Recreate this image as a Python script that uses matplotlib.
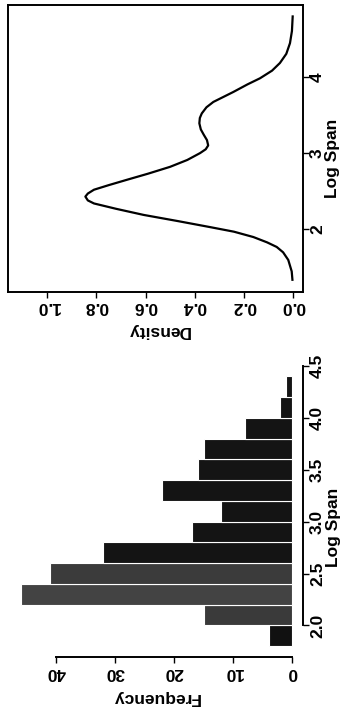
import matplotlib
matplotlib.use("Agg")
import matplotlib.pyplot as plt

plt.rcParams.update({"font.family": ["Liberation Sans", "DejaVu Sans"],
                     "font.size": 12.5, "font.weight": "bold",
                     "axes.labelweight": "bold"})

W, H = 342, 711

# histogram of log span, bins of width 0.2
bin_left = [1.8, 2.0, 2.2, 2.4, 2.6, 2.8, 3.0, 3.2, 3.4, 3.6, 3.8, 4.0, 4.2]
counts = [4, 15, 46, 41, 32, 17, 12, 22, 16, 15, 8, 2, 1]
bin_width = 0.2

# density curve of log span
span = [1.34, 1.45, 1.60, 1.70, 1.77, 1.83, 1.90, 1.97, 2.03, 2.11, 2.19, 2.27,
        2.34, 2.38, 2.43, 2.47, 2.52, 2.58, 2.65, 2.73, 2.82, 2.91, 3.00, 3.05,
        3.10, 3.17, 3.24, 3.31, 3.39, 3.46, 3.52, 3.60, 3.67, 3.80, 3.90, 3.98,
        4.08, 4.18, 4.30, 4.44, 4.60, 4.79]
density = [0.002, 0.005, 0.019, 0.040, 0.066, 0.105, 0.161, 0.240, 0.337, 0.470,
           0.608, 0.720, 0.810, 0.835, 0.845, 0.835, 0.810, 0.750, 0.676, 0.590,
           0.500, 0.430, 0.378, 0.355, 0.345, 0.350, 0.363, 0.375, 0.381, 0.379,
           0.371, 0.352, 0.324, 0.243, 0.185, 0.134, 0.085, 0.053, 0.027, 0.012,
           0.004, 0.001]

dens_ticks = [0.0, 0.2, 0.4, 0.6, 0.8, 1.0]
span_ticks_top = [2, 3, 4]
freq_ticks = [0, 10, 20, 30, 40]
span_ticks_bottom = [2.0, 2.5, 3.0, 3.5, 4.0, 4.5]

bar_colors = ["#111111", "#3a3a3a", "#434343", "#3b3b3b"] + ["#141414"] * 9


def px_rect(x0, y0, x1, y1):
    return [x0 / W, 1 - y1 / H, (x1 - x0) / W, (y1 - y0) / H]


fig = plt.figure(figsize=(W / 100, H / 100), dpi=100)

# top panel: density (whole figure is turned a quarter turn)
ax1 = fig.add_axes(px_rect(8, 5, 303, 292))
ax1.plot(density, span, color="black", lw=1.6)
ax1.set_xlim(1.16, -0.041)
ax1.set_ylim(1.18, 4.94)
ax1.set_xticks(dens_ticks)
ax1.set_xticklabels([f"{v:.1f}" for v in dens_ticks])
ax1.set_yticks(span_ticks_top)
ax1.set_yticklabels([str(v) for v in span_ticks_top])
ax1.yaxis.tick_right()
ax1.tick_params(axis="x", labelrotation=180, length=4, width=1, pad=1)
ax1.tick_params(axis="y", labelrotation=90, length=4, width=1, pad=1)
plt.setp(ax1.get_yticklabels(), va="center")
for s in ax1.spines.values():
    s.set_linewidth(1.4)
ax1.set_xlabel("Density", rotation=180)
ax1.xaxis.label.set_va("center")
ax1.xaxis.set_label_coords((158 - 8) / 295, -(331 - 292) / 287)
ax1.yaxis.set_label_position("right")
ax1.set_ylabel("Log Span", rotation=90)
ax1.yaxis.label.set_rotation_mode("default")
ax1.yaxis.label.set_va("center")
ax1.yaxis.set_label_coords((332 - 8) / 295, (292 - 158) / 287)

# bottom panel: histogram
ax2 = fig.add_axes(px_rect(9.7, 365.6, 303, 657))
ax2.barh(bin_left, counts, height=bin_width, align="edge", color=bar_colors,
         edgecolor="white", linewidth=0.8)
ax2.set_xlim(47.84, -1.84)
ax2.set_ylim(1.696, 4.504)
ax2.spines["top"].set_visible(False)
ax2.spines["left"].set_visible(False)
ax2.spines["bottom"].set_bounds(0, 40)
ax2.spines["right"].set_bounds(2.0, 4.5)
for s in ("bottom", "right"):
    ax2.spines[s].set_linewidth(1.4)
ax2.set_xticks(freq_ticks)
ax2.set_xticklabels([str(v) for v in freq_ticks])
ax2.set_yticks(span_ticks_bottom)
ax2.set_yticklabels([f"{v:.1f}" for v in span_ticks_bottom])
ax2.yaxis.tick_right()
ax2.tick_params(axis="x", labelrotation=180, length=4, width=1, pad=2)
ax2.tick_params(axis="y", labelrotation=90, length=4, width=1, pad=1)
plt.setp(ax2.get_yticklabels(), va="center")
ax2.set_xlabel("Frequency", rotation=180)
ax2.xaxis.label.set_va("center")
ax2.xaxis.set_label_coords((156 - 9.7) / 293.3, -(697 - 657) / 291.4)
ax2.yaxis.set_label_position("right")
ax2.set_ylabel("Log Span", rotation=90)
ax2.yaxis.label.set_rotation_mode("default")
ax2.yaxis.label.set_va("center")
ax2.yaxis.set_label_coords((333 - 9.7) / 293.3, (657 - 527) / 291.4)

fig.savefig("out.png", dpi=100)
